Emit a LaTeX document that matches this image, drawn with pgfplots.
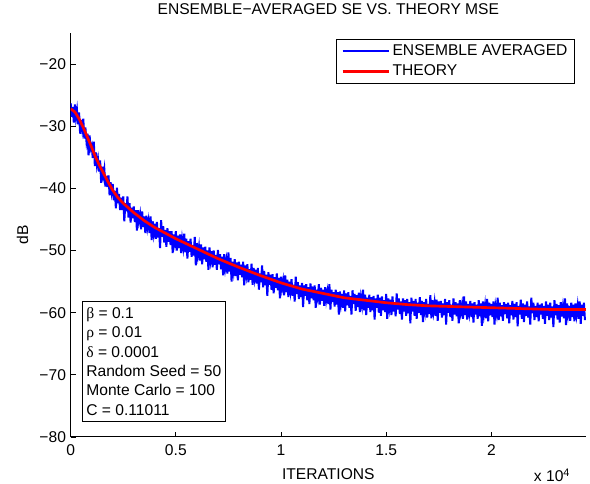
\documentclass[border=0pt]{standalone}
\usepackage{fontspec}
\setmainfont{Liberation Sans}
\newfontfamily\grk{Liberation Serif}
\usepackage{pgfplots}
\pgfplotsset{compat=1.18}
\definecolor{mblue}{RGB}{0,0,255}
\definecolor{mred}{RGB}{255,0,0}
\newcommand\fs{\fontsize{11.7}{14}\selectfont}

\begin{document}
\begin{tikzpicture}
\useasboundingbox (-53pt,-35.25pt) rectangle (389.5pt,327.75pt);
\begin{axis}[
    scale only axis,
    width=386.5pt, height=303pt,
    xmin=0, xmax=24500, ymin=-80, ymax=-15,
    axis lines=left,
    axis line style={-, black, line width=0.75pt},
    tick style={black, line width=0.6pt},
    major tick length=3.75pt,
    tick align=inside,
    xtick={0,5000,10000,15000,20000},
    xticklabels={0,0.5,1,1.5,2},
    ytick={-80,-70,-60,-50,-40,-30,-20},
    yticklabels={−80,−70,−60,−50,−40,−30,−20},
    scaled x ticks=false,
    tick label style={font=\fs},
    xticklabel style={yshift=-2pt},
    title={ENSEMBLE−AVERAGED SE VS. THEORY MSE},
    title style={font=\fs, at={(axis description cs:0.5,1.026)}, anchor=base},
    xlabel={ITERATIONS},
    xlabel style={font=\fs, at={(axis description cs:0.5,-0.1064)}, anchor=base},
    ylabel={dB},
    ylabel style={font=\fs, at={(axis description cs:-0.0823,0.5)}, anchor=base, rotate=0},
    legend style={font=\fs, at={(0.9787,0.985)}, anchor=north east,
        inner xsep=3.5pt, inner ysep=1.1pt,
        nodes={inner xsep=2pt, inner ysep=2.8pt, text depth=0.15em},
        cells={anchor=west}},
    legend image code/.code={\draw[#1] (0pt,0pt) -- (34.5pt,0pt);},
]
\addlegendimage{draw=mblue, color=mblue, line width=0.85pt}
\addlegendentry{ENSEMBLE AVERAGED}
\addplot[draw=mblue, color=mblue, line width=1.5pt, forget plot] coordinates {
(0,-26.3) (50,-28.5) (100,-26.9) (150,-29.4) (200,-26.5) (250,-28.6) (300,-27.4) (350,-29.7)
(400,-27.8) (450,-31.2) (500,-29.0) (550,-30.5) (600,-28.8) (650,-32.0) (700,-30.2) (750,-32.4)
(800,-31.2) (850,-34.7) (900,-31.5) (950,-33.6) (1000,-33.1) (1050,-35.1) (1100,-32.5) (1150,-36.4)
(1200,-34.2) (1250,-36.3) (1300,-35.3) (1350,-37.3) (1400,-35.5) (1450,-39.1) (1500,-36.5) (1550,-38.0)
(1600,-36.9) (1650,-39.7) (1700,-38.0) (1750,-39.8) (1800,-37.9) (1850,-41.1) (1900,-39.0) (1950,-40.6)
(2000,-39.3) (2050,-41.9) (2100,-40.4) (2150,-43.2) (2200,-39.9) (2250,-42.4) (2300,-40.9) (2350,-43.5)
(2400,-41.5) (2450,-43.5) (2500,-41.3) (2550,-45.3) (2600,-42.4) (2650,-43.7) (2700,-41.3) (2750,-44.7)
(2800,-42.4) (2850,-45.5) (2900,-43.1) (2950,-44.8) (3000,-42.9) (3050,-45.4) (3100,-43.5) (3150,-46.8)
(3200,-43.5) (3250,-45.2) (3300,-44.2) (3350,-46.6) (3400,-43.7) (3450,-46.2) (3500,-44.5) (3550,-47.2)
(3600,-44.4) (3650,-46.3) (3700,-45.2) (3750,-47.2) (3800,-44.5) (3850,-48.3) (3900,-45.3) (3950,-47.2)
(4000,-45.7) (4050,-48.1) (4100,-45.4) (4150,-47.9) (4200,-46.4) (4250,-49.6) (4300,-45.1) (4350,-47.8)
(4400,-46.1) (4450,-48.7) (4500,-46.7) (4550,-49.4) (4600,-46.4) (4650,-48.6) (4700,-46.9) (4750,-49.1)
(4800,-46.9) (4850,-50.4) (4900,-47.4) (4950,-48.7) (5000,-46.9) (5050,-50.0) (5100,-47.6) (5150,-49.6)
(5200,-47.4) (5250,-50.4) (5300,-48.2) (5350,-49.5) (5400,-47.3) (5450,-50.3) (5500,-48.1) (5550,-51.3)
(5600,-48.5) (5650,-50.2) (5700,-48.1) (5750,-51.0) (5800,-49.1) (5850,-50.8) (5900,-47.8) (5950,-52.4)
(6000,-48.8) (6050,-50.7) (6100,-49.4) (6150,-51.6) (6200,-49.0) (6250,-52.2) (6300,-49.5) (6350,-51.4)
(6400,-49.4) (6450,-51.8) (6500,-50.0) (6550,-53.1) (6600,-49.5) (6650,-51.5) (6700,-50.1) (6750,-52.7)
(6800,-50.0) (6850,-52.3) (6900,-50.7) (6950,-53.1) (7000,-49.9) (7050,-52.2) (7100,-50.6) (7150,-53.0)
(7200,-51.0) (7250,-54.0) (7300,-50.6) (7350,-52.8) (7400,-51.6) (7450,-53.7) (7500,-50.3) (7550,-53.4)
(7600,-51.2) (7650,-55.0) (7700,-51.8) (7750,-53.3) (7800,-51.4) (7850,-54.1) (7900,-51.9) (7950,-54.8)
(8000,-51.8) (8050,-53.9) (8100,-52.3) (8150,-54.3) (8200,-51.8) (8250,-55.6) (8300,-52.4) (8350,-53.9)
(8400,-52.2) (8450,-55.1) (8500,-53.0) (8550,-54.7) (8600,-52.1) (8650,-55.5) (8700,-52.8) (8750,-54.5)
(8800,-53.1) (8850,-55.3) (8900,-52.8) (8950,-56.3) (9000,-53.7) (9050,-55.1) (9100,-52.4) (9150,-55.9)
(9200,-53.3) (9250,-55.6) (9300,-53.9) (9350,-57.3) (9400,-53.5) (9450,-55.5) (9500,-53.9) (9550,-56.3)
(9600,-53.8) (9650,-56.9) (9700,-54.3) (9750,-56.0) (9800,-53.7) (9850,-56.4) (9900,-54.4) (9950,-57.7)
(10000,-54.2) (10050,-56.0) (10100,-54.9) (10150,-57.2) (10200,-54.0) (10250,-56.7) (10300,-54.7) (10350,-57.5)
(10400,-55.0) (10450,-56.5) (10500,-54.6) (10550,-57.3) (10600,-55.5) (10650,-58.2) (10700,-54.2) (10750,-57.0)
(10800,-55.1) (10850,-57.8) (10900,-55.6) (10950,-57.5) (11000,-55.2) (11050,-59.1) (11100,-55.6) (11150,-57.3)
(11200,-55.4) (11250,-58.0) (11300,-55.9) (11350,-58.6) (11400,-55.3) (11450,-57.7) (11500,-55.8) (11550,-58.0)
(11600,-55.6) (11650,-59.2) (11700,-56.3) (11750,-57.5) (11800,-55.4) (11850,-58.7) (11900,-56.0) (11950,-58.1)
(12000,-56.3) (12050,-58.9) (12100,-55.9) (12150,-57.9) (12200,-56.7) (12250,-58.6) (12300,-55.4) (12350,-59.5)
(12400,-56.3) (12450,-58.3) (12500,-56.7) (12550,-59.0) (12600,-56.3) (12650,-58.7) (12700,-56.7) (12750,-60.3)
(12800,-56.6) (12850,-58.5) (12900,-57.0) (12950,-59.2) (13000,-56.4) (13050,-59.8) (13100,-56.9) (13150,-58.8)
(13200,-56.7) (13250,-59.2) (13300,-57.3) (13350,-60.3) (13400,-56.4) (13450,-58.6) (13500,-57.0) (13550,-59.7)
(13600,-57.2) (13650,-59.1) (13700,-56.8) (13750,-59.9) (13800,-57.6) (13850,-58.8) (13900,-56.3) (13950,-59.6)
(14000,-57.1) (14050,-60.4) (14100,-57.6) (14150,-59.2) (14200,-57.1) (14250,-59.9) (14300,-57.5) (14350,-59.6)
(14400,-57.3) (14450,-61.1) (14500,-57.7) (14550,-59.2) (14600,-57.1) (14650,-60.0) (14700,-57.6) (14750,-60.5)
(14800,-57.4) (14850,-59.6) (14900,-58.0) (14950,-59.9) (15000,-57.0) (15050,-61.0) (15100,-57.7) (15150,-59.3)
(15200,-57.9) (15250,-60.4) (15300,-57.4) (15350,-59.8) (15400,-58.3) (15450,-60.6) (15500,-56.9) (15550,-59.5)
(15600,-57.7) (15650,-60.2) (15700,-58.2) (15750,-61.1) (15800,-57.7) (15850,-59.8) (15900,-58.0) (15950,-60.5)
(16000,-57.8) (16050,-60.1) (16100,-58.3) (16150,-61.7) (16200,-57.6) (16250,-59.8) (16300,-58.1) (16350,-60.5)
(16400,-57.8) (16450,-61.0) (16500,-58.4) (16550,-60.0) (16600,-57.5) (16650,-60.4) (16700,-58.1) (16750,-61.5)
(16800,-58.3) (16850,-59.7) (16900,-57.8) (16950,-60.8) (17000,-58.6) (17050,-60.2) (17100,-57.2) (17150,-60.9)
(17200,-58.0) (17250,-59.8) (17300,-58.4) (17350,-60.5) (17400,-57.9) (17450,-61.3) (17500,-58.2) (17550,-60.0)
(17600,-58.1) (17650,-60.8) (17700,-58.5) (17750,-60.4) (17800,-57.8) (17850,-61.9) (17900,-58.3) (17950,-60.0)
(18000,-58.0) (18050,-60.7) (18100,-58.7) (18150,-61.3) (18200,-57.7) (18250,-60.3) (18300,-58.3) (18350,-60.6)
(18400,-58.5) (18450,-61.7) (18500,-58.0) (18550,-59.9) (18600,-58.8) (18650,-61.0) (18700,-57.4) (18750,-60.4)
(18800,-58.2) (18850,-61.1) (18900,-58.6) (18950,-60.0) (19000,-58.1) (19050,-60.7) (19100,-58.5) (19150,-61.6)
(19200,-58.3) (19250,-60.3) (19300,-58.7) (19350,-61.0) (19400,-58.0) (19450,-60.6) (19500,-58.5) (19550,-62.1)
(19600,-58.2) (19650,-60.2) (19700,-58.8) (19750,-60.9) (19800,-57.8) (19850,-61.4) (19900,-58.4) (19950,-60.4)
(20000,-58.6) (20050,-60.7) (20100,-58.2) (20150,-61.9) (20200,-59.0) (20250,-60.1) (20300,-57.6) (20350,-61.2)
(20400,-58.4) (20450,-60.6) (20500,-58.8) (20550,-61.3) (20600,-58.3) (20650,-60.2) (20700,-58.6) (20750,-60.9)
(20800,-58.4) (20850,-61.7) (20900,-58.8) (20950,-60.4) (21000,-58.1) (21050,-61.1) (21100,-58.6) (21150,-60.7)
(21200,-58.3) (21250,-62.2) (21300,-58.9) (21350,-60.3) (21400,-57.9) (21450,-61.0) (21500,-58.5) (21550,-61.5)
(21600,-58.7) (21650,-60.5) (21700,-58.2) (21750,-60.8) (21800,-59.0) (21850,-61.9) (21900,-57.6) (21950,-60.1)
(22000,-58.4) (22050,-61.2) (22100,-58.9) (22150,-60.7) (22200,-58.4) (22250,-61.4) (22300,-58.7) (22350,-60.3)
(22400,-58.5) (22450,-61.0) (22500,-58.9) (22550,-61.8) (22600,-58.2) (22650,-60.5) (22700,-58.7) (22750,-61.2)
(22800,-58.4) (22850,-60.8) (22900,-59.0) (22950,-62.3) (23000,-58.0) (23050,-60.4) (23100,-58.6) (23150,-61.1)
(23200,-58.8) (23250,-61.6) (23300,-58.3) (23350,-60.6) (23400,-59.1) (23450,-60.9) (23500,-57.7) (23550,-62.0)
(23600,-58.5) (23650,-60.2) (23700,-58.9) (23750,-61.3) (23800,-58.4) (23850,-60.7) (23900,-58.7) (23950,-61.4)
(24000,-58.5) (24050,-60.3) (24100,-58.9) (24150,-61.0) (24200,-58.2) (24250,-61.8) (24300,-58.7) (24350,-60.5)
(24400,-58.4) (24450,-61.2)
};
\addplot[draw=mred, color=mred, line width=2pt] coordinates {
(0,-27.2) (200,-27.7) (400,-28.8) (600,-30.2) (800,-31.8) (1000,-33.4) (1200,-35.1)
(1400,-36.5) (1600,-37.8) (1800,-39.1) (2000,-40.3) (2250,-41.5) (2500,-42.4) (3000,-43.9)
(3500,-45.2) (4000,-46.3) (4500,-47.2) (5000,-48.1) (5500,-48.9) (6000,-49.7) (7000,-51.3)
(8000,-52.7) (9000,-54.0) (10000,-55.2) (11000,-56.2) (12000,-56.9) (13000,-57.6) (14000,-58.0)
(15000,-58.4) (16000,-58.7) (17000,-58.9) (18000,-59.0) (19000,-59.1) (20000,-59.2) (21000,-59.3)
(22000,-59.4) (23000,-59.5) (24500,-59.5)
};
\addlegendentry{THEORY}
\node[draw=black, line width=0.6pt, fill=white, anchor=north west, align=left,
      inner xsep=3pt, inner ysep=4.5pt, font=\fontsize{11.7}{14.5}\selectfont]
  at (rel axis cs:0.0219,0.3366)
  {{\grk β} = 0.1\\ {\grk ρ} = 0.01\\ {\grk δ} = 0.0001\\ Random Seed = 50\\ Monte Carlo = 100\\ C = 0.11011};
\end{axis}
\node[font=\fs, anchor=base east] at (378.2pt,-33.75pt) {x 10\textsuperscript{4}};
\end{tikzpicture}
\end{document}
